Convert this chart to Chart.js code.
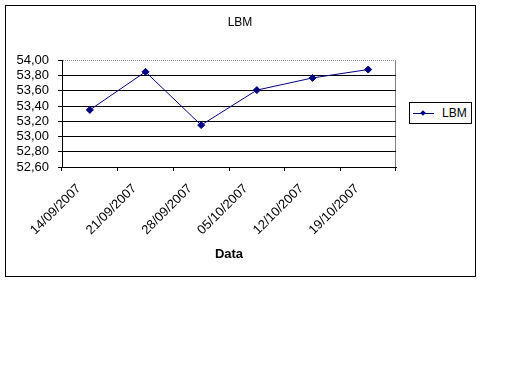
<!DOCTYPE html>
<html>
<head>
<meta charset="utf-8">
<script src="https://cdn.jsdelivr.net/npm/chart.js@4/dist/chart.umd.min.js"></script>
<style>
  body { margin: 0; background: #fff; }
  #frame { position: absolute; left: 5px; top: 5px; width: 469px; height: 270px; border: 1px solid #000; }
  #wrap { position: absolute; left: 0; top: 0; width: 512px; height: 384px; }
  #legend { position: absolute; left: 409px; top: 102px; width: 61px; height: 20px; border: 1px solid #000;
    font: 12px "Liberation Sans", Arial, sans-serif; background: #fff; }
  #legend .ln { position: absolute; left: 3px; top: 10px; width: 21px; height: 1px; background: #000080; }
  #legend .mk { position: absolute; left: 11px; top: 8px; width: 4px; height: 4px; background: #000080; transform: rotate(45deg); }
  #legend .tx { position: absolute; left: 32px; top: 3px; }
</style>
</head>
<body>
<div id="frame"></div>
<div id="wrap"><canvas id="lbmChart" width="512" height="384"></canvas></div>
<div id="legend"><span class="ln"></span><span class="mk"></span><span class="tx">LBM</span></div>
<script>
  // data
  const dates = ['14/09/2007', '21/09/2007', '28/09/2007', '05/10/2007', '12/10/2007', '19/10/2007'];
  const lbmValues = [53.35, 53.85, 53.15, 53.61, 53.77, 53.88];
  const yMin = 52.6;
  const yMax = 54.0;
  const yStep = 0.2;

  const font = '"Liberation Sans", Arial, sans-serif';
  const isTop = v => Math.abs(v - yMax) < 1e-6;

  const ctx = document.getElementById('lbmChart').getContext('2d');
  new Chart(ctx, {
    type: 'line',
    data: {
      labels: dates,
      datasets: [{
        label: 'LBM',
        data: lbmValues,
        borderColor: '#000080',
        borderWidth: 1,
        tension: 0,
        fill: false,
        pointStyle: 'rectRot',
        pointRadius: 3.5,
        pointBackgroundColor: '#000080',
        pointBorderColor: '#000080',
        pointBorderWidth: 1
      }]
    },
    options: {
      responsive: false,
      animation: false,
      layout: { padding: { left: 5, right: 37, top: 7, bottom: 122 } },
      plugins: {
        legend: { display: false },
        tooltip: { enabled: false },
        title: {
          display: true,
          text: 'LBM',
          color: '#000',
          font: { family: font, size: 12, weight: 'normal' },
          padding: { top: 8, bottom: 31 }
        }
      },
      scales: {
        x: {
          type: 'category',
          offset: true,
          grid: {
            offset: true,
            drawOnChartArea: true,
            color: c => c.tick ? 'rgba(0,0,0,0)' : '#808080',
            tickColor: '#000',
            tickLength: 4
          },
          border: { display: true, color: '#000', width: 1 },
          ticks: {
            autoSkip: false,
            maxRotation: 45,
            minRotation: 45,
            color: '#000',
            padding: 10,
            labelOffset: -11,
            font: { family: font, size: 13 }
          },
          title: {
            display: true,
            text: 'Data',
            color: '#000',
            font: { family: font, size: 13, weight: 'bold' },
            padding: 0
          },
          afterFit: s => { s.height = 95; }
        },
        y: {
          min: yMin,
          max: yMax,
          grid: {
            color: c => (c.tick && isTop(c.tick.value)) ? '#909090' : '#000',
            tickColor: '#000',
            tickLength: 4
          },
          border: {
            display: true, color: '#000', width: 1,
            dash: c => (c.tick && isTop(c.tick.value)) ? [1, 1] : []
          },
          ticks: {
            stepSize: yStep,
            autoSkip: false,
            color: '#000',
            padding: 9,
            font: { family: font, size: 13 },
            callback: v => Number(v).toFixed(2).replace('.', ',')
          },
          afterFit: s => { s.width = 57; }
        },
        yRight: {
          position: 'right',
          min: yMin,
          max: yMax,
          grid: { drawOnChartArea: false, drawTicks: false },
          border: { display: false },
          ticks: { display: false, autoSkip: false },
          afterFit: s => { s.width = 79; }
        }
      }
    }
  });
</script>
</body>
</html>
